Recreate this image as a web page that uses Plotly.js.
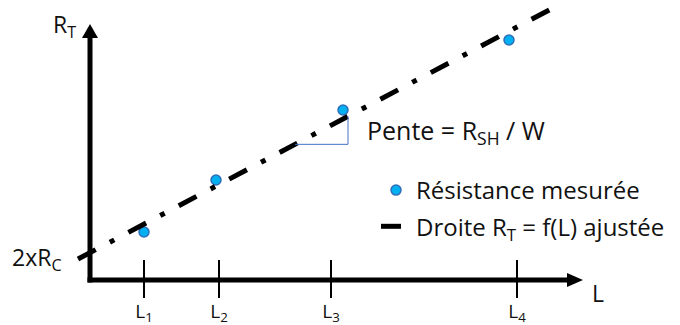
<!DOCTYPE html>
<html><head><meta charset="utf-8">
<script src="https://cdn.plot.ly/plotly-3.0.1.min.js"></script>
<style>html,body{margin:0;padding:0;background:#fff}</style>
</head><body><div id="chart" style="width:680px;height:325px"></div>
<script>
// Schematic data (arbitrary units)
const tickPositions = [54, 129, 241, 427];
const tickLabels = ['L<sub>1</sub>', 'L<sub>2</sub>', 'L<sub>3</sub>', 'L<sub>4</sub>'];
const measuredL = [54, 126, 253, 419];
const measuredR = [48, 100, 170, 240];
const fitL = [-12, 463];
const fitR = [21, 272];
const interceptLabelR = 22;
const slopeTriangleL = [205, 258];

const FONT = 'Open Sans';
const TXT = '#111';

function fitAt(x) {
  return fitR[0] + (fitR[1] - fitR[0]) * (x - fitL[0]) / (fitL[1] - fitL[0]);
}

const traces = [
  {
    type: 'scatter', mode: 'markers', x: measuredL, y: measuredR,
    name: 'Résistance mesurée', legendgroup: 'a',
    marker: {size: 10, color: '#00B0F0', line: {color: '#2F6EBA', width: 1.5}},
    cliponaxis: false
  },
  {
    type: 'scatter', mode: 'lines', x: fitL, y: fitR,
    name: 'Droite R<sub>T</sub> = f(L) ajustée', legendgroup: 'b',
    line: {color: '#000', width: 5, dash: '20px,16px,5px,16px'}
  }
];

const shapes = [];
shapes.push({type: 'line', xref: 'x', yref: 'y', x0: 0, x1: 0, y0: -2.5, y1: 244, line: {color: '#000', width: 5}});
shapes.push({type: 'path', xref: 'x', yref: 'y', path: 'M -8 242 L 8 242 L 0 256 Z', fillcolor: '#000', line: {width: 0}});
shapes.push({type: 'line', xref: 'x', yref: 'y', x0: -2.5, x1: 480, y0: 0, y1: 0, line: {color: '#000', width: 5}});
shapes.push({type: 'path', xref: 'x', yref: 'y', path: 'M 477 7 L 477 -7 L 493 0 Z', fillcolor: '#000', line: {width: 0}});
tickPositions.forEach(function (x) {
  shapes.push({type: 'line', xref: 'x', yref: 'y', x0: x, x1: x, y0: 20, y1: -18, line: {color: '#000', width: 2}});
});
const tA = slopeTriangleL[0], tB = slopeTriangleL[1];
shapes.push({type: 'path', xref: 'x', yref: 'y',
  path: 'M ' + tA + ' ' + fitAt(tA) + ' L ' + tB + ' ' + fitAt(tA) + ' L ' + tB + ' ' + fitAt(tB),
  line: {color: '#4472C4', width: 1}});

const annFont = {family: FONT, size: 23, color: TXT};
const annotations = [
  {xref: 'x', yref: 'y', x: -12, y: 255, text: 'R<sub>T</sub>', showarrow: false, xanchor: 'right', yanchor: 'middle', font: annFont},
  {xref: 'x', yref: 'y', x: -26, y: interceptLabelR, text: '2xR<sub>C</sub>', showarrow: false, xanchor: 'right', yanchor: 'middle', font: annFont},
  {xref: 'x', yref: 'y', x: 508, y: -13, text: 'L', showarrow: false, xanchor: 'center', yanchor: 'middle', font: annFont},
  {xref: 'x', yref: 'y', x: 275, y: 149, text: 'Pente = R<sub>SH</sub> / W', showarrow: false, xanchor: 'left', yanchor: 'middle',
   font: {family: FONT, size: 25, color: TXT}}
];

const layout = {
  width: 680, height: 325,
  margin: {l: 0, r: 0, t: 0, b: 0, pad: 0},
  paper_bgcolor: '#fff', plot_bgcolor: '#fff',
  font: {family: FONT, color: TXT},
  xaxis: {
    range: [-90, 590], showgrid: false, zeroline: false, showline: false,
    anchor: 'free', position: 45 / 325, side: 'bottom',
    tickmode: 'array', tickvals: tickPositions, ticktext: tickLabels,
    ticks: '', ticklabelstandoff: 18, tickfont: {family: FONT, size: 19, color: TXT},
    fixedrange: true
  },
  yaxis: {range: [-45, 280], visible: false, fixedrange: true},
  showlegend: true,
  legend: {
    x: 376 / 680, y: 1 - 168 / 325, xanchor: 'left', yanchor: 'top',
    bgcolor: 'rgba(0,0,0,0)', font: {family: FONT, size: 24, color: TXT},
    traceorder: 'grouped', tracegroupgap: 2, itemwidth: 30
  },
  shapes: shapes,
  annotations: annotations
};

Plotly.newPlot('chart', traces, layout, {displayModeBar: false, staticPlot: true});
</script>
</body></html>
